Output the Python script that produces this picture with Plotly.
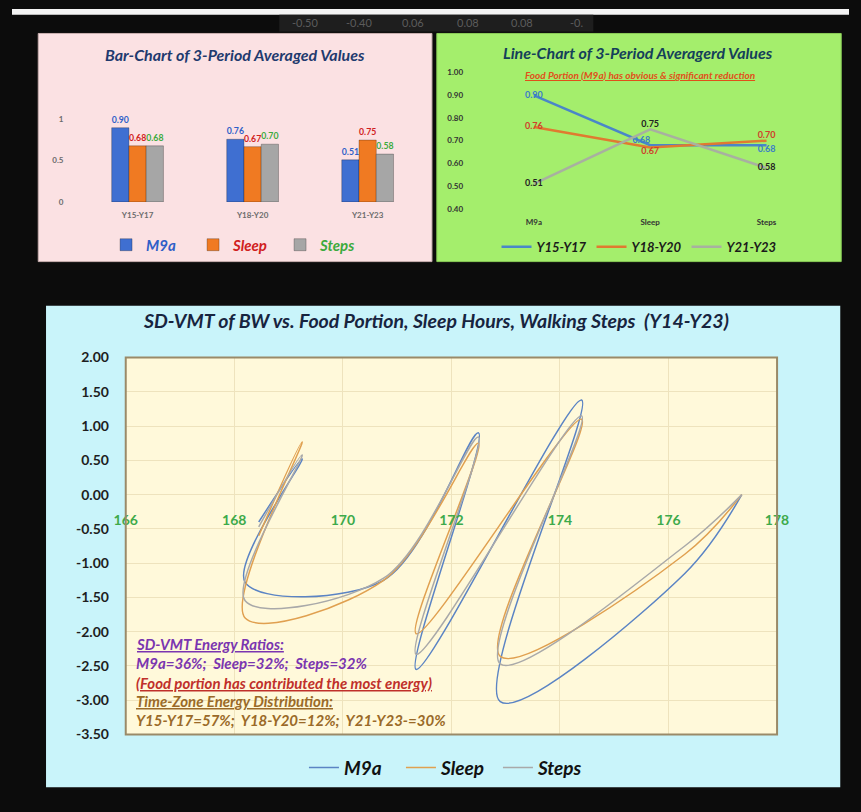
import plotly.graph_objects as go

W, H = 861, 812
FONT = "Lato"

# ---------------- data ----------------
# Bar chart (3-period averaged values)
periods = ["Y15-Y17", "Y18-Y20", "Y21-Y23"]
m9a_avg = [0.90, 0.76, 0.51]
sleep_avg = [0.68, 0.67, 0.75]
steps_avg = [0.68, 0.70, 0.58]

# Line chart (same averages, by factor)
factors = ["M9a", "Sleep", "Steps"]
y15_17 = [0.90, 0.68, 0.68]
y18_20 = [0.76, 0.67, 0.70]
y21_23 = [0.51, 0.75, 0.58]

# SD-VMT of BW (x) vs. factors (y)
bw = [168.45, 169.25, 168.2, 170.75, 172.5, 171.35, 174.4, 172.9, 176.3, 177.35]
sd_m9a = [-0.40, 0.52, -1.28, -1.25, 0.90, -2.55, 1.38, -3.02, -1.15, 0.0]
sd_sleep = [-0.60, 0.77, -1.80, -1.25, 0.75, -2.03, 1.10, -2.36, -0.87, 0.0]
sd_steps = [-0.47, 0.58, -1.55, -1.22, 0.84, -2.33, 1.15, -2.47, -0.75, 0.0]

# tick values / labels (hyphen minus, as in the original)
vmt_yticks = [2.0, 1.5, 1.0, 0.5, 0.0, -0.5, -1.0, -1.5, -2.0, -2.5, -3.0, -3.5]
vmt_yticklabels = ["2.00", "1.50", "1.00", "0.50", "0.00", "-0.50", "-1.00", "-1.50",
                   "-2.00", "-2.50", "-3.00", "-3.50"]
bar_yticks = [0, 0.5, 1]
bar_yticklabels = ["0", "0.5", "1"]

# dim table values visible at the top edge
top_row_vals = ["-0.50", "-0.40", "0.06", "0.08", "0.08", "-0."]

# ---------------- helpers ----------------
def fx(p):
    return p / W

def fy(p):
    return 1 - p / H

fig = go.Figure()

# ---------------- bar chart ----------------
bar_series = [("M9a", m9a_avg, "#3f6fd1", "#2f5fc8"),
              ("Sleep", sleep_avg, "#f07a22", "#d02020"),
              ("Steps", steps_avg, "#a6a6a6", "#3caa3c")]
for name, vals, col, lab in bar_series:
    fig.add_trace(go.Bar(
        x=periods, y=vals, name=f"<span style='color:{lab}'>{name}</span>",
        marker=dict(color=col, line=dict(color="rgba(0,0,0,0.25)", width=1)),
        texttemplate="%{y:.2f}", textposition="outside", cliponaxis=False,
        textfont=dict(family=FONT, size=9, color=lab, weight="bold"),
        xaxis="x", yaxis="y", legend="legend"))

# ---------------- line chart ----------------
line_series = [("Y15-Y17", y15_17, "#4a86c8", "#3a7cc8", ["middle center", "top left", "bottom center"]),
               ("Y18-Y20", y18_20, "#e07a30", "#d0402a", ["middle center", "bottom center", "top center"]),
               ("Y21-Y23", y21_23, "#a8b0a0", "#222222", ["middle center", "top center", "middle center"])]
for name, vals, col, lab, pos in line_series:
    fig.add_trace(go.Scatter(
        x=factors, y=vals, name=name, mode="lines+text",
        line=dict(color=col, width=2.5),
        text=[f"{v:.2f}" for v in vals], textposition=pos,
        textfont=dict(family=FONT, size=9, color=lab, weight="bold"),
        cliponaxis=False, xaxis="x2", yaxis="y2", legend="legend2"))

# ---------------- SD-VMT chart ----------------
vmt_series = [("M9a", sd_m9a, "#5b84c4"),
              ("Sleep", sd_sleep, "#e0a050"),
              ("Steps", sd_steps, "#a9a9a9")]
for name, vals, col in vmt_series:
    fig.add_trace(go.Scatter(
        x=bw, y=vals, name=name, mode="lines",
        line=dict(color=col, width=1.5, shape="spline", smoothing=1.0),
        xaxis="x3", yaxis="y3", legend="legend3"))

# ---------------- axes ----------------
bar_dom_y = [fy(197), fy(96)]
line_dom_y = [fy(204), fy(65)]
vmt_dom_y = [fy(741), fy(356)]
vmt_yrange = [-3.5, 2.0]
zero_pos = vmt_dom_y[0] + (0 - vmt_yrange[0]) / (vmt_yrange[1] - vmt_yrange[0]) * (vmt_dom_y[1] - vmt_dom_y[0])

small_gray = dict(family=FONT, size=8, color="#6b6b6b", weight="bold")
fig.update_layout(
    xaxis=dict(domain=[fx(70), fx(425)], type="category", range=[-0.5, 2.5],
               showgrid=False, zeroline=False, showline=False,
               tickfont=small_gray, ticks="outside", ticklen=6, tickcolor="rgba(0,0,0,0)",
               anchor="y"),
    yaxis=dict(domain=bar_dom_y, range=[0, 1.2], tickvals=bar_yticks, ticktext=bar_yticklabels,
               showgrid=False, zeroline=False, showline=False,
               tickfont=small_gray, ticks="outside", ticklen=14, tickcolor="rgba(0,0,0,0)",
               anchor="x"),
    xaxis2=dict(domain=[fx(477), fx(836)], type="category", range=[-0.5, 2.5],
                showgrid=False, zeroline=False, showline=False,
                tickfont=dict(family=FONT, size=8, color="#333333", weight="bold"),
                ticks="outside", ticklen=6, tickcolor="rgba(0,0,0,0)", anchor="y2"),
    yaxis2=dict(domain=line_dom_y, range=[0.4, 1.0], dtick=0.1, tickformat=".2f",
                showgrid=False, zeroline=False, showline=False,
                tickfont=dict(family=FONT, size=8, color="#333333", weight="bold"),
                ticks="outside", ticklen=10, tickcolor="rgba(0,0,0,0)", anchor="x2"),
    xaxis3=dict(domain=[fx(117), fx(787)], range=[166, 178], dtick=2,
                showgrid=True, gridcolor="#eee3bd", gridwidth=1,
                zeroline=False, showline=False,
                tickfont=dict(family=FONT, size=14, color="#3daa4a", weight="bold"),
                ticks="outside", ticklen=13, tickcolor="rgba(0,0,0,0)",
                anchor="free", position=zero_pos),
    yaxis3=dict(domain=vmt_dom_y, range=vmt_yrange, tickvals=vmt_yticks, ticktext=vmt_yticklabels,
                showgrid=True, gridcolor="#eee3bd", gridwidth=1,
                zeroline=False, showline=False,
                tickfont=dict(family=FONT, size=14, color="#1e1e1e", weight="bold"),
                ticks="outside", ticklen=13, tickcolor="rgba(0,0,0,0)", anchor="x3"),
)

# ---------------- backgrounds ----------------
shapes = [
    dict(type="rect", xref="paper", yref="paper", x0=0, x1=1, y0=fy(6), y1=1,
         fillcolor="#f4f4f4", line=dict(width=0), layer="below"),
    dict(type="rect", xref="paper", yref="paper", x0=fx(275), x1=fx(598), y0=fy(23), y1=fy(6),
         fillcolor="#1e1e1e", line=dict(width=0), layer="below"),
    dict(type="rect", xref="paper", yref="paper", x0=fx(27), x1=fx(432), y0=fy(258), y1=fy(25),
         fillcolor="#fbe1e3", line=dict(color="#c9b0b0", width=1), layer="below"),
    dict(type="rect", xref="paper", yref="paper", x0=fx(437), x1=fx(853), y0=fy(258), y1=fy(25),
         fillcolor="#a4ee6c", line=dict(color="#8acc58", width=1), layer="below"),
    dict(type="rect", xref="paper", yref="paper", x0=fx(35), x1=fx(852), y0=fy(795), y1=fy(303),
         fillcolor="#c9f4fa", line=dict(width=0), layer="below"),
    dict(type="rect", xref="paper", yref="paper", x0=fx(117), x1=fx(787), y0=vmt_dom_y[0], y1=vmt_dom_y[1],
         fillcolor="#fff9da", line=dict(width=0), layer="below"),
    dict(type="rect", xref="x3 domain", yref="y3 domain", x0=0, x1=1, y0=0, y1=1,
         fillcolor="rgba(0,0,0,0)", line=dict(color="#9a8a68", width=2), layer="above"),
]

# ---------------- annotations ----------------
ann = []
def text(x, y, s, size, color, xanchor="center", under=False, italic=True, bold=True):
    f = dict(family=FONT, size=size, color=color)
    if bold:
        f["weight"] = "bold"
    if italic:
        f["style"] = "italic"
    if under:
        f["lineposition"] = "under"
    ann.append(dict(x=fx(x), y=fy(y), xref="paper", yref="paper", text=s, showarrow=False,
                    xanchor=xanchor, yanchor="middle", font=f))

text(229, 46, "Bar-Chart of 3-Period Averaged Values", 16, "#1f3a6e")
text(644, 44, "Line-Chart of 3-Period Averagerd Values", 16, "#14405a")
text(646, 67, "Food Portion (M9a) has obvious &amp; significant reduction", 10, "#e0501a", under=True)
text(436, 318, "SD-VMT of BW vs. Food Portion, Sleep Hours, Walking Steps  (Y14-Y23)", 19.5, "#17243f")

text(125, 649, "SD-VMT Energy Ratios:", 15, "#7a35b0", xanchor="left", under=True)
text(125, 668, "M9a=36%;  Sleep=32%;  Steps=32%", 15, "#7a35b0", xanchor="left")
text(125, 688, "(Food portion has contributed the most energy)", 15, "#c0302a", xanchor="left", under=True)
text(125, 707, "Time-Zone Energy Distribution:", 15, "#9a6a28", xanchor="left", under=True)
text(125, 726, "Y15-Y17=57%;  Y18-Y20=12%;  Y21-Y23-=30%", 15, "#9a6a28", xanchor="left")

for i, v in enumerate(top_row_vals):
    text(301 + i * 56, 14, v, 11, "#5c5c5c", italic=False, bold=False)

leg_common = dict(orientation="h", xanchor="center", yanchor="middle",
                  bgcolor="rgba(0,0,0,0)", borderwidth=0, entrywidthmode="pixels")
fig.update_layout(
    width=W, height=H,
    margin=dict(l=0, r=0, t=0, b=0),
    paper_bgcolor="#0c0c0c", plot_bgcolor="rgba(0,0,0,0)",
    barmode="group", bargap=0.55, bargroupgap=0.0,
    shapes=shapes, annotations=ann,
    legend=dict(x=fx(231), y=fy(241), font=dict(family=FONT, size=15, weight="bold", style="italic"),
                itemwidth=30, entrywidth=42, **leg_common),
    legend2=dict(x=fx(645), y=fy(243), font=dict(family=FONT, size=13, color="#1a1a1a",
                 weight="bold", style="italic"), itemwidth=30, entrywidth=50, **leg_common),
    legend3=dict(x=fx(450), y=fy(775), font=dict(family=FONT, size=19, color="#111111",
                 weight="bold", style="italic"), itemwidth=30, entrywidth=52, **leg_common),
)

fig.write_html("out.html", config={"displayModeBar": False},
               post_script="document.body.style.margin='0px';document.body.style.overflow='hidden';")
